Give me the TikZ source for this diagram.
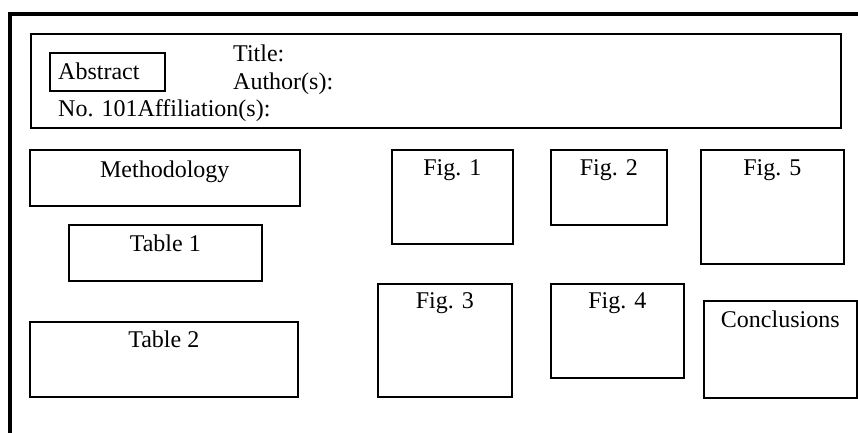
\documentclass[tikz,border=0pt]{standalone}
\usepackage{fontspec}
\setmainfont{Liberation Serif}
\begin{document}
\begin{tikzpicture}[x=1pt,y=-1pt,
  box/.style={draw, line width=1.6pt, inner sep=0pt, anchor=north west},
  txt/.style={inner sep=0pt, font=\fontsize{24}{28}\selectfont},
  lbl/.style={txt, anchor=base}]
\useasboundingbox (0,0) rectangle (858,432);
\draw[line width=4pt] (9.5,434) -- (9.5,14) -- (860,14);
% header
\node[box, minimum width=810pt, minimum height=94pt] (header) at (30,33) {};
\node[box, minimum width=115pt, minimum height=38pt] (abstract) at (49,52) {};
\node[txt, anchor=base west] (abstxt) at (58,79) {Abstract};
\node[txt, anchor=base west] (title) at (233,61) {Title:};
\node[txt, anchor=base west] (author) at (233,89) {Author(s):};
\node[txt, anchor=base west] (affil) at (58,116) {No. 101Affiliation(s):};
% left column
\node[box, minimum width=270pt, minimum height=56pt] (meth) at (29,149) {};
\node[lbl] (methtxt) at ([yshift=-28pt]meth.north) {Methodology};
\node[box, minimum width=193pt, minimum height=56pt] (tab1) at (68,224) {};
\node[lbl] (tab1txt) at ([yshift=-27pt]tab1.north) {Table 1};
\node[box, minimum width=268pt, minimum height=75pt] (tab2) at (29,321) {};
\node[lbl] (tab2txt) at ([yshift=-26pt]tab2.north) {Table 2};
% figures
\node[box, minimum width=121pt, minimum height=94pt] (fig1) at (391,149) {};
\node[lbl] (fig1txt) at ([yshift=-26pt]fig1.north) {Fig. 1};
\node[box, minimum width=116pt, minimum height=75pt] (fig2) at (550,149) {};
\node[lbl] (fig2txt) at ([yshift=-26pt]fig2.north) {Fig. 2};
\node[box, minimum width=143pt, minimum height=114pt] (fig5) at (700,149) {};
\node[lbl] (fig5txt) at ([yshift=-26pt]fig5.north) {Fig. 5};
\node[box, minimum width=134pt, minimum height=113pt] (fig3) at (377,283) {};
\node[lbl] (fig3txt) at ([yshift=-25pt]fig3.north) {Fig. 3};
\node[box, minimum width=133pt, minimum height=94pt] (fig4) at (550,283) {};
\node[lbl] (fig4txt) at ([yshift=-25pt]fig4.north) {Fig. 4};
\node[box, minimum width=153pt, minimum height=97pt] (conc) at (703,300) {};
\node[lbl] (conctxt) at ([yshift=-27pt]conc.north) {Conclusions};
\end{tikzpicture}
\end{document}
